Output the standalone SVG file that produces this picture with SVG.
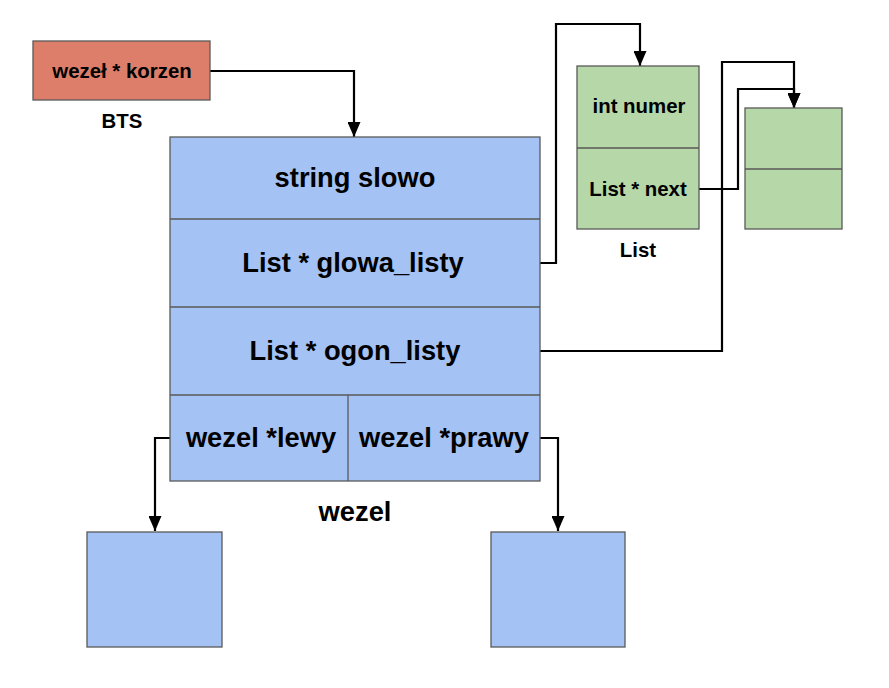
<svg xmlns="http://www.w3.org/2000/svg" width="889" height="688" viewBox="0 0 889 688">
<style>
.box{stroke:#595959;stroke-width:1.3}
.red{fill:#dd7e6b}
.blue{fill:#a4c2f4}
.green{fill:#b6d7a8}
.div{stroke:#595959;stroke-width:1.3;fill:none}
.t{font-family:"Liberation Sans",Arial,sans-serif;font-weight:bold;fill:#000;text-anchor:middle}
.big{font-size:27.3px}
.small{font-size:20.4px}
.conn{fill:none;stroke:#000;stroke-width:2.2;stroke-linejoin:miter}
</style>
<defs>
<marker id="arr" markerUnits="userSpaceOnUse" markerWidth="15" markerHeight="13" refX="15" refY="6.5" orient="auto" viewBox="0 0 15 13">
<path d="M0,0 L15,6.5 L0,13 z" fill="#000"/>
</marker>
</defs>
<rect width="889" height="688" fill="#fff"/>
<g id="connectors">
<path class="conn" d="M210,71 H354 V137" marker-end="url(#arr)"/>
<path class="conn" d="M540,263 H556 V24 H640 V66" marker-end="url(#arr)"/>
<path class="conn" d="M540,351 H722 V62 H794 V108" marker-end="url(#arr)"/>
<path class="conn" d="M699,189 H738 V89 H794 V108" marker-end="url(#arr)"/>
<path class="conn" d="M170,438 H155 V531" marker-end="url(#arr)"/>
<path class="conn" d="M540,438 H558 V531" marker-end="url(#arr)"/>
</g>
<g id="korzen">
<rect class="box red" x="33" y="41" width="177" height="59"/>
<text class="t small" x="122" y="78">wezeł * korzen</text>
<text class="t small" x="122" y="128">BTS</text>
</g>
<g id="wezel">
<rect class="box blue" x="170" y="137" width="370" height="344"/>
<line class="div" x1="170" y1="219" x2="540" y2="219"/>
<line class="div" x1="170" y1="307" x2="540" y2="307"/>
<line class="div" x1="170" y1="395" x2="540" y2="395"/>
<line class="div" x1="348" y1="395" x2="348" y2="481"/>
<text class="t big" x="355" y="187">string slowo</text>
<text class="t big" x="353" y="272">List * glowa_listy</text>
<text class="t big" x="355" y="360">List * ogon_listy</text>
<text class="t big" x="261" y="447">wezel *lewy</text>
<text class="t big" x="444" y="447">wezel *prawy</text>
<text class="t big" x="355" y="521">wezel</text>
</g>
<g id="lewy">
<rect class="box blue" x="87" y="532" width="135" height="115"/>
</g>
<g id="prawy">
<rect class="box blue" x="491" y="532" width="134" height="115"/>
</g>
<g id="list1">
<rect class="box green" x="577" y="66" width="122" height="163"/>
<line class="div" x1="577" y1="148" x2="699" y2="148"/>
<text class="t small" x="639" y="113">int numer</text>
<text class="t small" x="638" y="196">List * next</text>
<text class="t small" x="638" y="257">List</text>
</g>
<g id="list2">
<rect class="box green" x="745" y="108" width="97" height="121"/>
<line class="div" x1="745" y1="169" x2="842" y2="169"/>
</g>
</svg>
